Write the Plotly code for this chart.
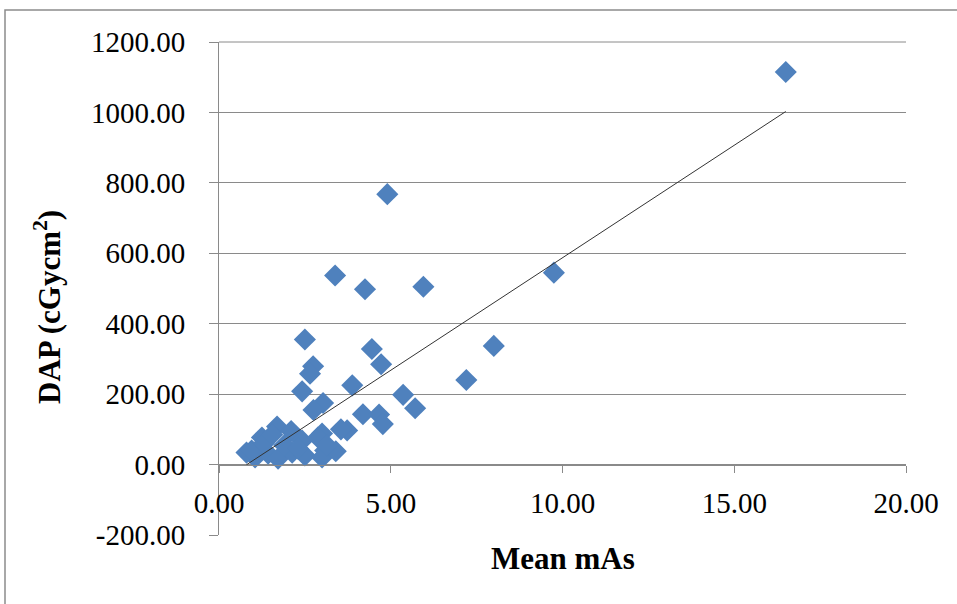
import plotly.graph_objects as go

# Data (Mean mAs vs DAP)
mean_mas = [16.5, 4.9, 9.75, 5.95, 3.38, 4.25, 2.5, 8.0, 4.45, 4.72,
            2.74, 2.65, 2.42, 3.88, 5.36, 5.71, 7.2, 3.03, 2.75, 4.19,
            4.66, 4.77, 3.73, 3.0, 1.69, 1.25, 2.1, 2.42, 2.88, 3.09,
            0.8, 1.05, 1.43, 1.72, 2.13, 2.5, 3.0, 3.4, 3.14, 0.95,
            1.3, 1.9, 2.3, 1.55, 3.55]
dap = [1115, 768, 545, 505, 537, 498, 355, 337, 328, 285,
       279, 258, 208, 225, 198, 160, 240, 175, 155, 143,
       142, 115, 97, 88, 108, 77, 95, 68, 77, 40,
       34, 20, 31, 17, 34, 26, 20, 38, 55, 40,
       60, 55, 45, 85, 100]

# Linear trend line coefficients
trend_slope = 63.9
trend_intercept = -51.7

x_ticks = [0, 5, 10, 15, 20]
y_ticks = [-200, 0, 200, 400, 600, 800, 1000, 1200]

xmin, xmax = min(mean_mas), max(mean_mas)
trend_x = [xmin, xmax]
trend_y = [trend_slope * v + trend_intercept for v in trend_x]

fig = go.Figure()
fig.add_trace(go.Scatter(
    x=mean_mas, y=dap, mode="markers",
    marker=dict(symbol="diamond", size=17, color="#4F81BD",
                line=dict(width=0)),
    showlegend=False))
fig.add_trace(go.Scatter(
    x=trend_x, y=trend_y, mode="lines",
    line=dict(color="#333333", width=1), showlegend=False))

font_family = "Liberation Serif"
gray = "#8A8A8A"

fig.update_layout(
    width=957, height=604,
    margin=dict(l=219, r=51, t=42, b=69),
    paper_bgcolor="white", plot_bgcolor="white",
    font=dict(family=font_family, size=29, color="black"),
    xaxis=dict(
        range=[0, 20], tickvals=x_ticks,
        ticktext=[f"{v:.2f}" for v in x_ticks],
        showgrid=False, zeroline=False,
        showline=True, linecolor=gray, linewidth=1,
        ticks="outside", ticklen=7, tickcolor=gray,
        anchor="free", position=200 / 1400,
        ticklabelstandoff=6,
        fixedrange=True),
    yaxis=dict(
        range=[-200, 1200], tickvals=y_ticks,
        ticktext=[f"{v:.2f}" for v in y_ticks],
        showgrid=True, gridcolor=gray, gridwidth=1,
        zeroline=False,
        showline=True, linecolor=gray, linewidth=1,
        ticks="outside", ticklen=9, tickcolor=gray,
        ticklabelstandoff=18,
        fixedrange=True),
    shapes=[
        dict(type="rect", xref="paper", yref="paper",
             x0=(5 - 219) / 687, x1=1.2, y0=-0.3, y1=(535 - 10) / 493,
             line=dict(color="#8C8C8C", width=1.5), layer="below"),
        dict(type="line", xref="paper", yref="paper",
             x0=0, x1=1, y0=1, y1=1,
             line=dict(color=gray, width=1)),
    ],
    annotations=[
        dict(text="<b>Mean mAs</b>", xref="paper", yref="paper",
             x=0.5, y=(535 - 558) / 493, xanchor="center", yanchor="middle",
             showarrow=False, font=dict(size=31, family=font_family)),
        dict(text="<b>DAP (cGycm<sup>2</sup>)</b>", xref="paper", yref="paper",
             x=(47 - 219) / 687, y=(535 - 307) / 493, xanchor="center",
             yanchor="middle", textangle=-90,
             showarrow=False, font=dict(size=31, family=font_family)),
    ],
)

fig.write_html("out.html")
